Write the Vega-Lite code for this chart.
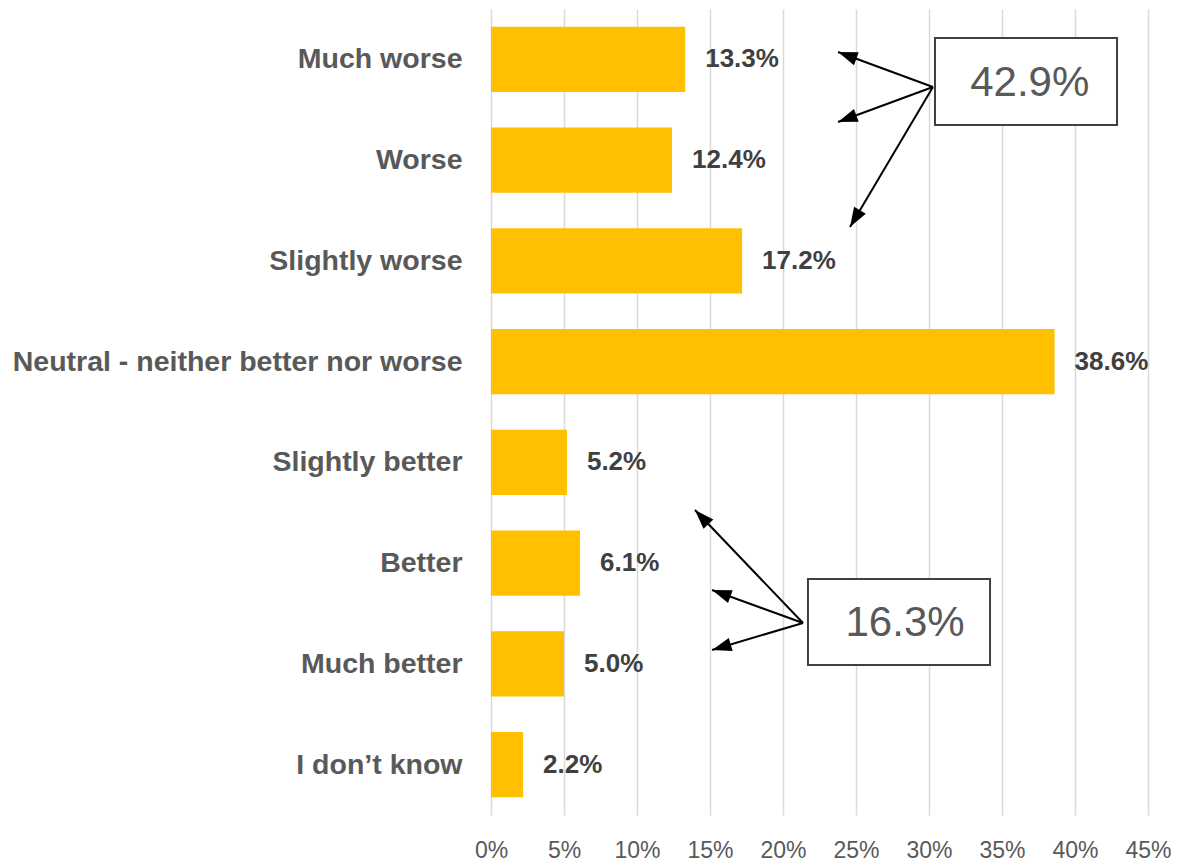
{
  "$schema": "https://vega.github.io/schema/vega-lite/v6.json",
  "autosize": {"type": "none"},
  "padding": {"left": 491, "top": 9, "right": 29, "bottom": 47},
  "width": 657,
  "height": 806,
  "background": "white",
  "config": {"view": {"stroke": null}, "font": "Liberation Sans"},
  "datasets": {
    "bars": [
      {"category": "Much worse", "value": 0.133},
      {"category": "Worse", "value": 0.124},
      {"category": "Slightly worse", "value": 0.172},
      {"category": "Neutral - neither better nor worse", "value": 0.386},
      {"category": "Slightly better", "value": 0.052},
      {"category": "Better", "value": 0.061},
      {"category": "Much better", "value": 0.050},
      {"category": "I don’t know", "value": 0.022}
    ],
    "arrows": [
      {"ox": 0.3027, "oy": 0.774, "tx": 0.2377, "ty": 0.427},
      {"ox": 0.3027, "oy": 0.774, "tx": 0.2377, "ty": 1.122},
      {"ox": 0.3027, "oy": 0.774, "tx": 0.2459, "ty": 2.164},
      {"ox": 0.2137, "oy": 6.094, "tx": 0.1397, "ty": 4.973},
      {"ox": 0.2137, "oy": 6.094, "tx": 0.1514, "ty": 5.767},
      {"ox": 0.2137, "oy": 6.094, "tx": 0.1514, "ty": 6.362}
    ],
    "boxes": [
      {"label": "42.9%", "x1": 0.3041, "x2": 0.4288, "y1": 0.288, "y2": 1.151, "cx": 0.369, "cy": 0.734},
      {"label": "16.3%", "x1": 0.2171, "x2": 0.3418, "y1": 5.658, "y2": 6.511, "cx": 0.2836, "cy": 6.094}
    ]
  },
  "layer": [
    {
      "data": {"name": "bars"},
      "layer": [
        {
          "mark": {"type": "bar", "color": "#FFC000"},
          "encoding": {
            "y": {
              "field": "category", "type": "nominal", "sort": null, "title": null,
              "scale": {"paddingInner": 0.35, "paddingOuter": 0.175},
              "axis": {"domain": false, "ticks": false, "grid": false, "labelPadding": 29, "labelFontSize": 28.5, "labelFontWeight": "bold", "labelColor": "#595959", "labelLimit": 600}
            },
            "x": {
              "field": "value", "type": "quantitative", "title": null,
              "scale": {"domain": [0, 0.45], "nice": false},
              "axis": {"format": ".0%", "values": [0, 0.05, 0.1, 0.15, 0.2, 0.25, 0.3, 0.35, 0.4, 0.45], "labelFlush": false, "domain": false, "ticks": false, "grid": true, "gridColor": "#D9D9D9", "gridWidth": 1.5, "labelPadding": 24, "labelFontSize": 23, "labelColor": "#595959", "labelFontWeight": "normal"}
            }
          }
        },
        {
          "mark": {"type": "text", "align": "left", "baseline": "middle", "dx": 20, "fontSize": 26, "fontWeight": "bold", "color": "#404040"},
          "encoding": {
            "y": {"field": "category", "type": "nominal", "sort": null, "title": null},
            "x": {"field": "value", "type": "quantitative", "title": null},
            "text": {"field": "value", "type": "quantitative", "format": ".1%"}
          }
        }
      ]
    },
    {
      "layer": [
        {
          "data": {"name": "arrows"},
          "mark": {"type": "rule", "color": "#000000", "strokeWidth": 2},
          "encoding": {
            "x": {"field": "ox", "type": "quantitative", "title": null},
            "x2": {"field": "tx"},
            "y": {"field": "oy", "type": "quantitative", "title": null, "axis": null, "scale": {"domain": [0, 8], "reverse": true, "nice": false, "zero": false}},
            "y2": {"field": "ty"}
          }
        },
        {
          "data": {"name": "arrows"},
          "transform": [
            {"calculate": "atan2((datum.tx - datum.ox) * 1460, -(datum.ty - datum.oy) * 100.75) * 180 / PI", "as": "ang"}
          ],
          "mark": {"type": "point", "shape": "M0,0L0.7,2L-0.7,2Z", "filled": true, "color": "#000000", "size": 380, "opacity": 1},
          "encoding": {
            "x": {"field": "tx", "type": "quantitative", "title": null},
            "y": {"field": "ty", "type": "quantitative", "title": null, "axis": null, "scale": {"domain": [0, 8], "reverse": true, "nice": false, "zero": false}},
            "angle": {"field": "ang", "type": "quantitative", "scale": null}
          }
        },
        {
          "data": {"name": "boxes"},
          "mark": {"type": "rect", "fill": "white", "stroke": "#404040", "strokeWidth": 2},
          "encoding": {
            "x": {"field": "x1", "type": "quantitative", "title": null},
            "x2": {"field": "x2"},
            "y": {"field": "y1", "type": "quantitative", "title": null, "axis": null, "scale": {"domain": [0, 8], "reverse": true, "nice": false, "zero": false}},
            "y2": {"field": "y2"}
          }
        },
        {
          "data": {"name": "boxes"},
          "mark": {"type": "text", "align": "center", "baseline": "middle", "fontSize": 42, "color": "#595959"},
          "encoding": {
            "x": {"field": "cx", "type": "quantitative", "title": null},
            "y": {"field": "cy", "type": "quantitative", "title": null, "axis": null, "scale": {"domain": [0, 8], "reverse": true, "nice": false, "zero": false}},
            "text": {"field": "label"}
          }
        }
      ]
    }
  ],
  "resolve": {"scale": {"y": "independent"}, "axis": {"y": "independent"}}
}
